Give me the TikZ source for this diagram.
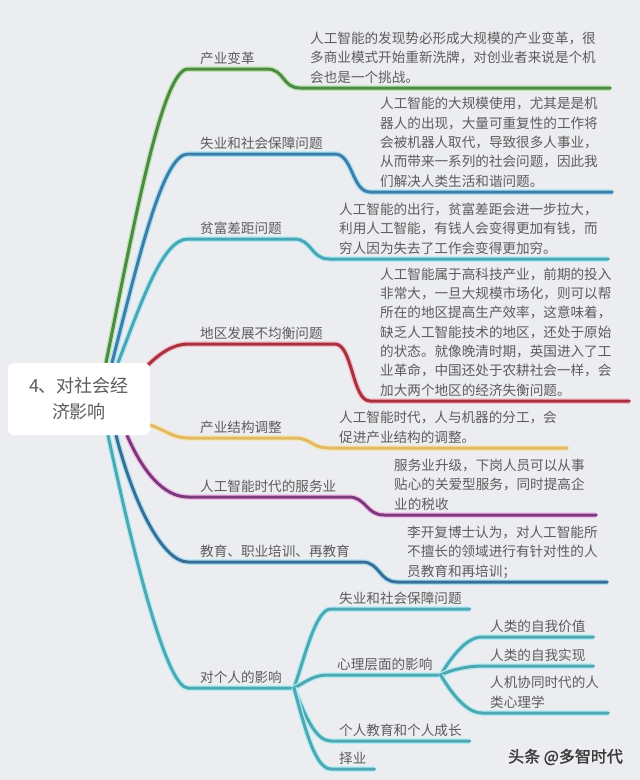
\documentclass[tikz,border=0pt]{standalone}
\usepackage{fontspec}
\setmainfont{Noto Sans CJK SC}
\newfontfamily\markfont[FakeBold=1.5]{Noto Sans CJK SC}
\usetikzlibrary{backgrounds}
\usepackage{xcolor}
\definecolor{Paper}{HTML}{ECEDF0}
\definecolor{Ink}{HTML}{5C5C5C}
\definecolor{Mark}{HTML}{3A3A3A}
\definecolor{Leaf}{HTML}{4E8A47}
\definecolor{LeafGlow}{HTML}{BDE5AE}
\definecolor{Sea}{HTML}{3E7DA8}
\definecolor{SeaGlow}{HTML}{A9E3F3}
\definecolor{Lake}{HTML}{4AA6B4}
\definecolor{LakeGlow}{HTML}{B3ECF2}
\definecolor{Wine}{HTML}{A8313F}
\definecolor{WineGlow}{HTML}{F5BDC8}
\definecolor{Sand}{HTML}{E2B964}
\definecolor{SandGlow}{HTML}{F7E6B5}
\definecolor{Plum}{HTML}{7B3A7A}
\definecolor{PlumGlow}{HTML}{F3BDEB}
\definecolor{Navy}{HTML}{3B6E97}
\definecolor{NavyGlow}{HTML}{ACE3F3}
\definecolor{Aqua}{HTML}{4FA7B2}
\definecolor{AquaGlow}{HTML}{B2EDF3}
\tikzset{
 root/.style={fill=white, rounded corners=6pt, minimum width=142pt, minimum height=72pt, align=center, text=Ink, font=\fontsize{18}{26}\selectfont},
 lab/.style={anchor=south west, inner xsep=12pt, inner ysep=0pt, text=Ink, font=\fontsize{13.6}{19.3}\selectfont, execute at end node=\strut},
 sublab/.style={lab, inner xsep=8pt},
 desc/.style={lab, inner xsep=10pt, align=left, text width=#1},
 branch/.style 2 args={draw=#1, line width=3pt, line cap=round, preaction={draw=#2, line width=5.5pt}}
}

\begin{document}
\begin{tikzpicture}[x=1pt,y=-1pt]
\useasboundingbox (0,0) rectangle (640,780);
\node[root] (r) at (79,399) {4、对社会经\\济影响};

\node[lab] (p1) at (188,69) {产业变革};
\node[desc=290pt] (d1) at (300,88) {人工智能的发现势必形成大规模的产业变革，很\\多商业模式开始重新洗牌，对创业者来说是个机\\会也是一个挑战。};
\node[lab] (p2) at (188,154) {失业和社会保障问题};
\node[desc=222pt] (d2) at (370,192) {人工智能的大规模使用，尤其是是机\\器人的出现，大量可重复性的工作将\\会被机器人取代，导致很多人事业，\\从而带来一系列的社会问题，因此我\\们解决人类生活和谐问题。};
\node[lab] (p3) at (188,239) {贫富差距问题};
\node[desc=259pt] (d3) at (329,259) {人工智能的出行，贫富差距会进一步拉大，\\利用人工智能，有钱人会变得更加有钱，而\\穷人因为失去了工作会变得更加穷。};
\node[lab] (p4) at (188,344) {地区发展不均衡问题};
\node[desc=239pt] (d4) at (370,401) {人工智能属于高科技产业，前期的投入\\非常大，一旦大规模市场化，则可以帮\\所在的地区提高生产效率，这意味着，\\缺乏人工智能技术的地区，还处于原始\\的状态。就像晚清时期，英国进入了工\\业革命，中国还处于农耕社会一样，会\\加大两个地区的经济失衡问题。};
\node[lab] (p5) at (188,438) {产业结构调整};
\node[desc=218pt] (d5) at (329,448) {人工智能时代，人与机器的分工，会\\促进产业结构的调整。};
\node[lab] (p6) at (188,497) {人工智能时代的服务业};
\node[desc=192pt] (d6) at (384,515) {服务业升级，下岗人员可以从事\\贴心的关爱型服务，同时提高企\\业的税收};
\node[lab] (p7) at (188,562) {教育、职业培训、再教育};
\node[desc=190pt] (d7) at (397,582) {李开复博士认为，对人工智能所\\不擅长的领域进行有针对性的人\\员教育和再培训；};
\node[lab] (p8) at (188,688) {对个人的影响};

\node[sublab] (s1) at (331,609) {失业和社会保障问题};
\node[sublab] (s2) at (329,675) {心理层面的影响};
\node[sublab] (s3) at (331,741) {个人教育和个人成长};
\node[sublab] (s4) at (331,769) {择业};
\node[sublab] (t1) at (482,637) {人类的自我价值};
\node[sublab] (t2) at (482,666) {人类的自我实现};
\node[desc=110pt, inner xsep=8pt] (t3) at (482,713) {人机协同时代的人\\类心理学};

\node[anchor=west, inner sep=0pt, text=Mark, font=\markfont\fontsize{16}{18}\selectfont] (wm) at (508,757) {头条 @多智时代};

\begin{scope}[on background layer]
\fill[Paper] (0,0) rectangle (640,780);
\draw[branch={Leaf}{LeafGlow}] ([xshift=27pt]r.north) .. controls +(30,-150) and +(-25,0) .. (p1.south west) -- (p1.south east) .. controls +(18,0) and +(-18,0) .. (d1.south west) -- (d1.south east);
\draw[branch={Sea}{SeaGlow}] ([xshift=33pt]r.north) .. controls +(28,-110) and +(-25,0) .. (p2.south west) -- (p2.south east) .. controls +(18,0) and +(-18,0) .. (d2.south west) -- (d2.south east);
\draw[branch={Lake}{LakeGlow}] ([xshift=39pt]r.north) .. controls +(25,-65) and +(-25,0) .. (p3.south west) -- (p3.south east) .. controls +(18,0) and +(-18,0) .. (d3.south west) -- (d3.south east);
\draw[branch={Wine}{WineGlow}] ([xshift=-3pt,yshift=-3pt]r.north east) .. controls +(12,-12) and +(-15,0) .. (p4.south west) -- (p4.south east) .. controls +(18,0) and +(-18,0) .. (d4.south west) -- (d4.south east);
\draw[branch={Sand}{SandGlow}] ([yshift=-26pt]r.east) .. controls +(15,5) and +(-15,0) .. (p5.south west) -- (p5.south east) .. controls +(18,0) and +(-18,0) .. (d5.south west) -- (d5.south east);
\draw[branch={Plum}{PlumGlow}] ([xshift=48pt]r.south) .. controls +(15,35) and +(-25,0) .. (p6.south west) -- (p6.south east) .. controls +(18,0) and +(-18,0) .. (d6.south west) -- (d6.south east);
\draw[branch={Navy}{NavyGlow}] ([xshift=37pt]r.south) .. controls +(18,70) and +(-25,0) .. (p7.south west) -- (p7.south east) .. controls +(18,0) and +(-18,0) .. (d7.south west) -- (d7.south east);
\draw[branch={Aqua}{AquaGlow}] ([xshift=29pt]r.south) .. controls +(30,140) and +(-20,0) .. (p8.south west) -- (p8.south east);
\draw[branch={Aqua}{AquaGlow}] (p8.south east) .. controls +(12,-35) and +(-15,0) .. (s1.south west) -- (s1.south east);
\draw[branch={Aqua}{AquaGlow}] (p8.south east) .. controls +(15,-8) and +(-15,0) .. (s2.south west) -- (s2.south east);
\draw[branch={Aqua}{AquaGlow}] (p8.south east) .. controls +(12,30) and +(-15,0) .. (s3.south west) -- (s3.south east);
\draw[branch={Aqua}{AquaGlow}] (p8.south east) .. controls +(12,45) and +(-15,0) .. (s4.south west) -- (s4.south east);
\draw[branch={Aqua}{AquaGlow}] (s2.south east) .. controls +(12,-20) and +(-15,0) .. (t1.south west) -- (t1.south east);
\draw[branch={Aqua}{AquaGlow}] (s2.south east) .. controls +(12,-6) and +(-12,0) .. (t2.south west) -- (t2.south east);
\draw[branch={Aqua}{AquaGlow}] (s2.south east) .. controls +(12,20) and +(-15,0) .. (t3.south west) -- (t3.south east);
\end{scope}
\end{tikzpicture}
\end{document}
